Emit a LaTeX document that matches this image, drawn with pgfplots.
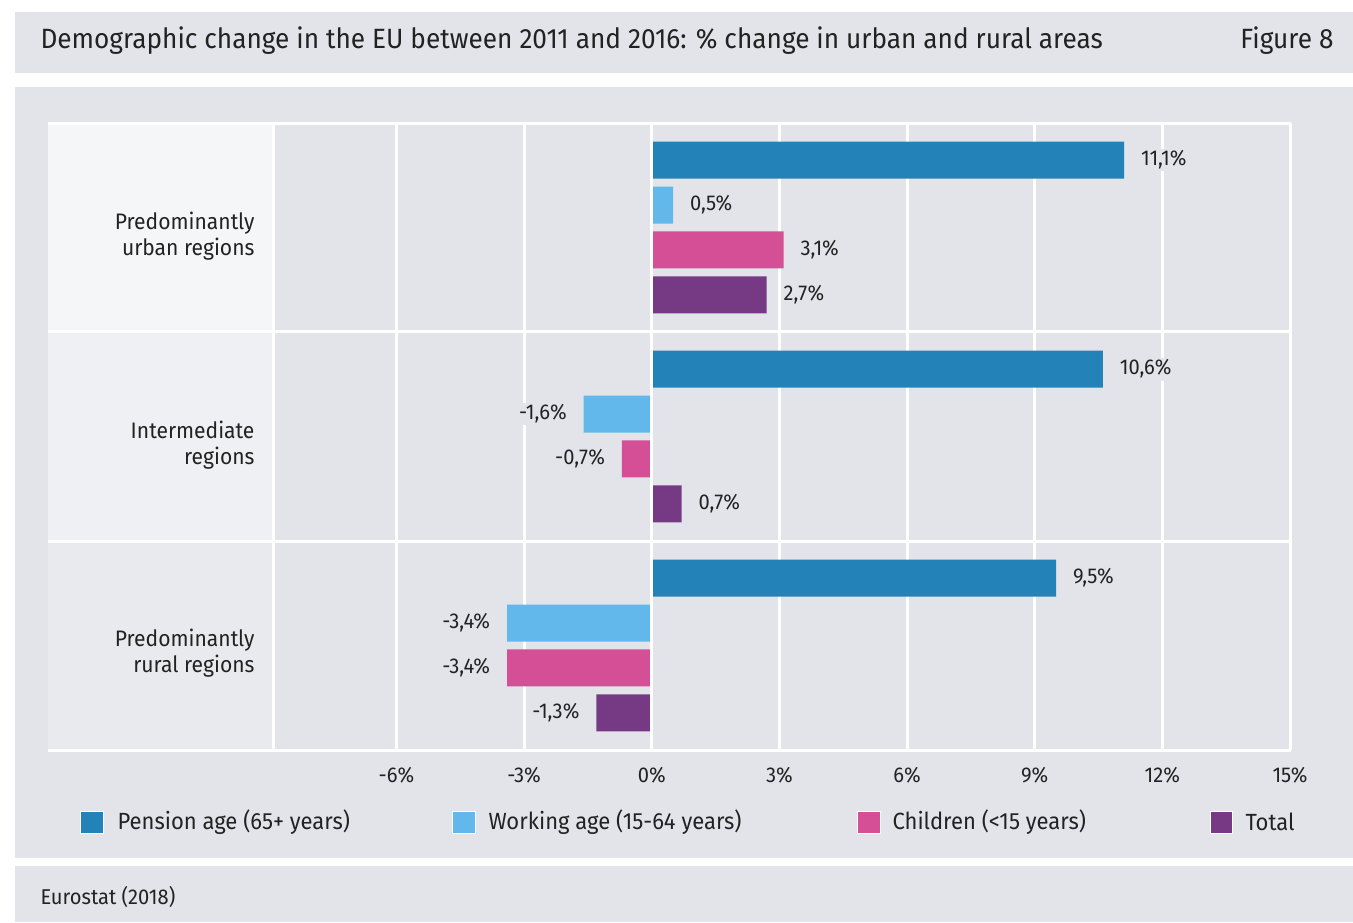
\documentclass[border=0pt]{standalone}
\usepackage{fontspec}
\setmainfont{Fira Sans}[FakeStretch=0.94]
\usepackage{pgfplots}
\pgfplotsset{compat=1.18}

\definecolor{panel}{HTML}{E3E4E9}
\definecolor{txt}{HTML}{222222}
\definecolor{pension}{HTML}{2383B8}
\definecolor{working}{HTML}{62B8EA}
\definecolor{children}{HTML}{D44F95}
\definecolor{total}{HTML}{763A85}
\definecolor{colA}{HTML}{F5F6F8}
\definecolor{colB}{HTML}{EFF0F3}
\definecolor{colC}{HTML}{E9EAEE}

\begin{document}
\begin{tikzpicture}[x=1bp,y=-1bp]
% page and panels
\fill[white] (0,0) rectangle (1353,922);
\fill[panel] (15,12) rectangle (1353,73);
\fill[panel] (15,87) rectangle (1353,858);
\fill[panel] (15,866) rectangle (1353,922);
\node[anchor=west, text=txt, font=\fontsize{28}{32}\selectfont] at (37,41)
  {Demographic change in the EU between 2011 and 2016: \% change in urban and rural areas};
\node[anchor=east, text=txt, font=\fontsize{28}{32}\selectfont] at (1337,41) {Figure 8};
\node[anchor=west, text=txt, font=\fontsize{21.5}{25}\selectfont] at (37,897) {Eurostat (2018)};

% category column
\fill[colA] (48,123) rectangle (273,331);
\fill[colB] (48,331) rectangle (273,541);
\fill[colC] (48,541) rectangle (273,750);
\begin{scope}[every node/.style={anchor=east, align=right, text=txt, font=\fontsize{22.5}{26.5}\selectfont}]
\node at (258,236) {Predominantly\\urban regions};
\node at (258,445) {Intermediate\\regions};
\node at (258,653) {Predominantly\\rural regions};
\end{scope}

\begin{axis}[
  at={(273bp,-123bp)}, anchor=north west,
  width=1017bp, height=627bp, scale only axis,
  xbar, bar width=0.177,
  xmin=-8.9, xmax=15, ymin=-0.5, ymax=2.5,
  axis line style={draw=none},
  major tick length=0pt,
  xtick={-6,-3,0,3,6,9,12,15},
  xticklabels={-6\%,-3\%,0\%,3\%,6\%,9\%,12\%,15\%},
  xticklabel style={text=txt, font=\fontsize{21.5}{25}\selectfont, yshift=-14bp},
  ytick=\empty,
  xmajorgrids, grid style={white, line width=3bp},
  point meta=explicit symbolic,
  visualization depends on={rawx \as \rawx},
  nodes near coords,
  every node near coord/.append style={text=txt, font=\fontsize{21.5}{25}\selectfont,
    fill=panel, inner sep=2bp, outer xsep=15bp,
    anchor=\ifdim\rawx pt<0pt east\else west\fi},
]
\addplot[fill=pension, draw=none, bar shift=0.3225] coordinates
  {(11.1,2) [11,1\%] (10.6,1) [10,6\%] (9.5,0) [9,5\%]};
\addplot[fill=working, draw=none, bar shift=0.1075] coordinates
  {(0.5,2) [0,5\%] (-1.6,1) [-1,6\%] (-3.4,0) [-3,4\%]};
\addplot[fill=children, draw=none, bar shift=-0.1075] coordinates
  {(3.1,2) [3,1\%] (-0.7,1) [-0,7\%] (-3.4,0) [-3,4\%]};
\addplot[fill=total, draw=none, bar shift=-0.3225] coordinates
  {(2.7,2) [2,7\%] (0.7,1) [0,7\%] (-1.3,0) [-1,3\%]};
\draw[white, line width=2.5bp] (axis cs:0,-0.5) -- (axis cs:0,2.5);
\end{axis}

% frame lines
\draw[white, line width=3bp] (48,123) -- (1291,123);
\draw[white, line width=3bp] (48,331) -- (1291,331);
\draw[white, line width=3bp] (48,541) -- (1291,541);
\draw[white, line width=3bp] (48,750) -- (1291,750);
\draw[white, line width=3bp] (273,123) -- (273,750);

% legend
\begin{scope}[every node/.style={anchor=west, text=txt, font=\fontsize{23.5}{27}\selectfont}]
\fill[pension, draw=white, line width=1bp] (80,811) rectangle (103,833);
\node at (114,822) {Pension age (65+ years)};
\fill[working, draw=white, line width=1bp] (452,811) rectangle (475,833);
\node at (485,822) {Working age (15-64 years)};
\fill[children, draw=white, line width=1bp] (857,811) rectangle (880,833);
\node at (889,822) {Children (<15 years)};
\fill[total, draw=white, line width=1bp] (1210,811) rectangle (1232,833);
\node at (1242,822) {Total};
\end{scope}
\end{tikzpicture}
\end{document}
